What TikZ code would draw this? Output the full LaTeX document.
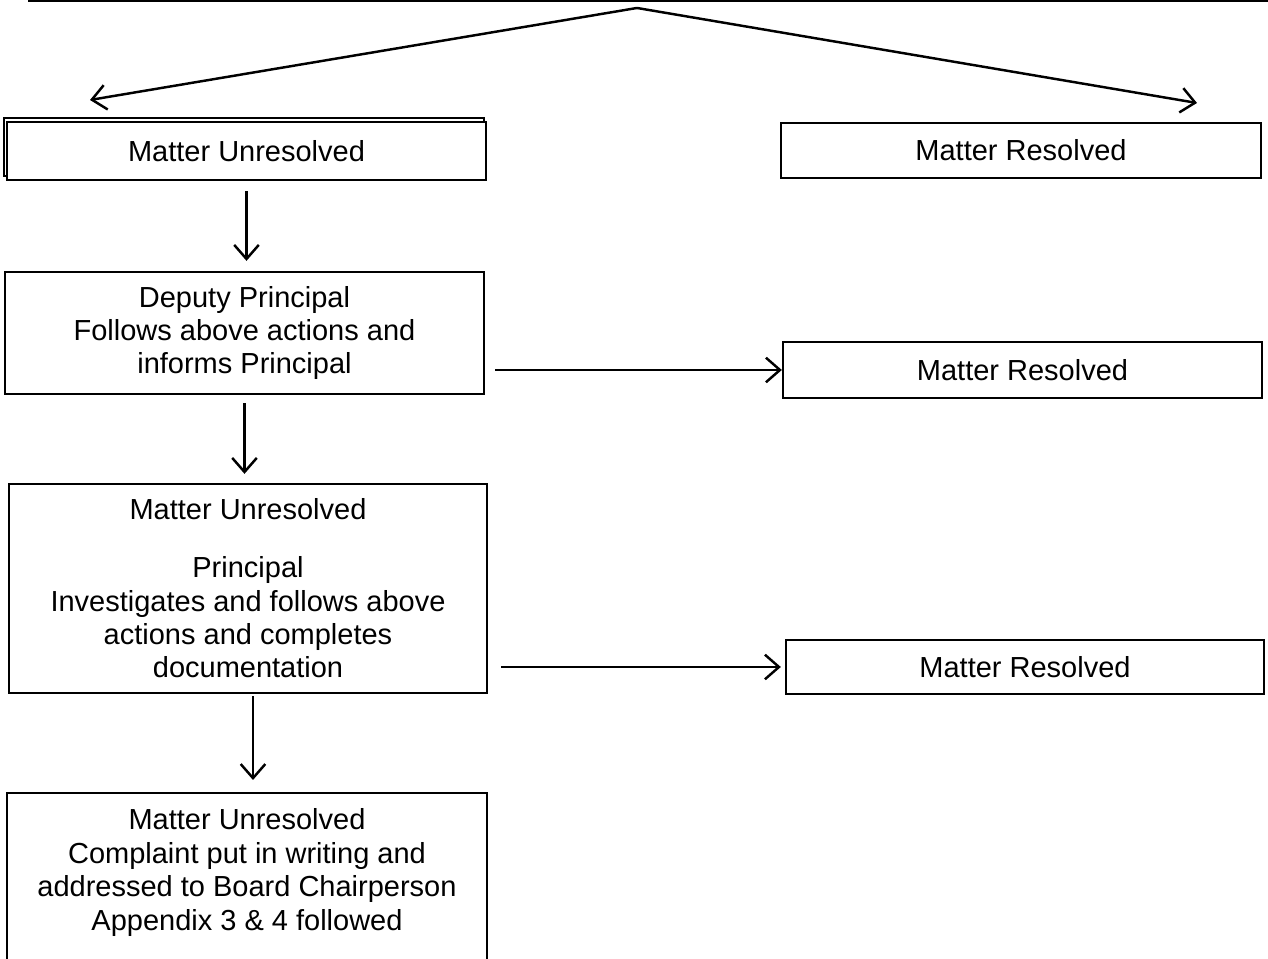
\documentclass[tikz,border=0pt]{standalone}
\usepackage{fontspec}
\setmainfont{Liberation Sans}
\usetikzlibrary{arrows.meta}

\tikzset{
  box/.style={draw, fill=white, line width=1.3pt, align=center,
    font=\fontsize{16.5}{19}\selectfont},
  arr/.style={line width=1.4pt, -{Straight Barb[length=8pt, width=14pt]}}
}

\begin{document}
\begin{tikzpicture}
  \useasboundingbox (0,0) rectangle (25.36,19.18);
  \clip (0,0) rectangle (25.36,19.18);

  % top line and split
  \coordinate (lineL) at (0.56,19.16);
  \coordinate (lineR) at (25.36,19.16);
  \coordinate (apex) at (12.74,19.02);
  \coordinate (tipL) at (1.8,17.18);
  \coordinate (tipR) at (23.94,17.12);
  \draw[line width=1.3pt] (lineL) -- (lineR);
  \draw[arr] (apex) -- (tipL);
  \draw[arr] (apex) -- (tipR);

  % left column
  \draw[line width=1.3pt] (0.08,15.66) rectangle (9.68,16.82);
  \node[box, minimum width=9.58cm, minimum height=1.16cm] (unres1) at (4.93,16.16) {Matter Unresolved};
  \node[box, minimum width=9.58cm, minimum height=2.44cm] (deputy) at (4.89,12.52) {Deputy Principal\\ Follows above actions and\\ informs Principal};
  \node[box, minimum width=9.56cm, minimum height=4.18cm] (principal) at (4.96,7.41) {Matter Unresolved\\[14pt] Principal\\ Investigates and follows above\\ actions and completes\\ documentation};
  \node[box, minimum width=9.6cm, anchor=north, inner ysep=9pt, text depth=3.2cm] (board) at (4.94,3.34) {Matter Unresolved\\ Complaint put in writing and\\ addressed to Board Chairperson\\ Appendix 3 \& 4 followed};

  % right column
  \node[box, minimum width=9.6cm, minimum height=1.10cm] (res1) at (20.42,16.17) {Matter Resolved};
  \node[box, minimum width=9.58cm, minimum height=1.12cm] (res2) at (20.45,11.78) {Matter Resolved};
  \node[box, minimum width=9.56cm, minimum height=1.08cm] (res3) at (20.5,5.84) {Matter Resolved};

  % connectors
  \draw[arr, shorten <=0.2cm, shorten >=0.2cm] (unres1.south) -- (unres1.south |- deputy.north);
  \draw[arr, shorten <=0.16cm, shorten >=0.18cm] (deputy.south) -- (deputy.south |- principal.north);
  \draw[arr, shorten <=0.04cm, shorten >=0.24cm] ([xshift=0.1cm]principal.south) -- ([xshift=0.1cm]principal.south |- board.north);
  \draw[arr, shorten <=0.2cm] (deputy.east |- res2) -- (res2);
  \draw[arr, shorten <=0.26cm, shorten >=0.08cm] (principal.east |- res3) -- (res3);
\end{tikzpicture}
\end{document}
